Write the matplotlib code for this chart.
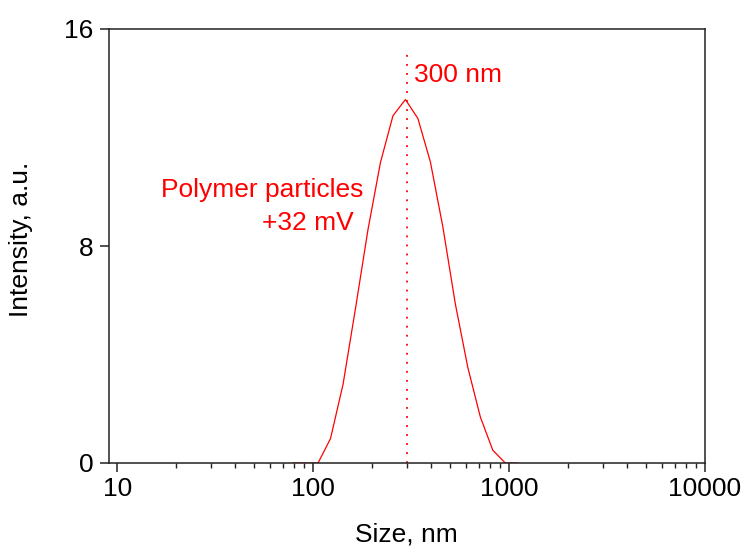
import matplotlib
matplotlib.use("Agg")
import matplotlib.pyplot as plt
from matplotlib.ticker import LogLocator, NullFormatter, FixedLocator

plt.rcParams['font.family'] = ['Liberation Sans', 'DejaVu Sans']

size_nm = [78.82, 91.28, 105.7, 122.4, 141.8, 164.2, 190.1, 220.2, 255.0, 295.3,
           342.0, 396.1, 458.7, 531.2, 615.1, 712.4, 825.0, 955.4, 1106.0]
intensity = [0.0, 0.0, 0.0, 0.9, 2.9, 5.7, 8.6, 11.08, 12.8, 13.4,
             12.7, 11.1, 8.7, 5.86, 3.52, 1.7, 0.47, 0.0, 0.0]
peak_size = 300
peak_line_top = 15.1
yticks = [0, 8, 16]
xticks = [10, 100, 1000, 10000]
xtick_labels = ['10', '100', '1000', '10000']

red = '#ff0000'
FS = 19
fig = plt.figure(figsize=(7.45, 5.46), dpi=100)
ax = fig.add_axes([109/745, 1 - 463/546, (705 - 109)/745, (463 - 29)/546])

ax.plot(size_nm, intensity, color=red, lw=0.9)
ax.plot([peak_size, peak_size], [0, peak_line_top], color=red, lw=1.3,
        linestyle=(0, (1, 4)))

ax.set_xscale('log')
ax.set_xlim(9.05, 10000)
ax.set_ylim(0, 16)
ax.xaxis.set_major_locator(FixedLocator(xticks))
ax.set_xticklabels(xtick_labels)
ax.xaxis.set_minor_locator(LogLocator(base=10, subs=range(2, 10)))
ax.xaxis.set_minor_formatter(NullFormatter())
ax.set_yticks(yticks)

for s in ax.spines.values():
    s.set_linewidth(1.1)
    s.set_color('#222222')
ax.tick_params(axis='both', which='major', direction='out', length=6.5, width=1.1,
               labelsize=FS, color='#222222', top=False, right=False)
ax.tick_params(axis='x', which='major', pad=3.5)
ax.tick_params(axis='y', which='major', pad=4.5)
ax.tick_params(axis='x', which='minor', direction='out', length=3.6, width=1.0,
               color='#222222', top=False)

fig.text(406.5/745, 1 - 541.7/546, 'Size, nm', fontsize=FS, ha='center', va='baseline')
fig.text(21/745, 1 - 239/546, 'Intensity, a.u.', fontsize=FS, ha='center',
         va='center', rotation=90)

ax.text(180.1, 9.82, 'Polymer particles', fontsize=FS, color=red,
        ha='right', va='baseline')
ax.text(160.1, 8.59, '+32 mV', fontsize=FS, color=red, ha='right', va='baseline')
ax.text(328.4, 14.04, '300 nm', fontsize=FS, color=red, ha='left', va='baseline')

fig.savefig('out.png', dpi=100)
